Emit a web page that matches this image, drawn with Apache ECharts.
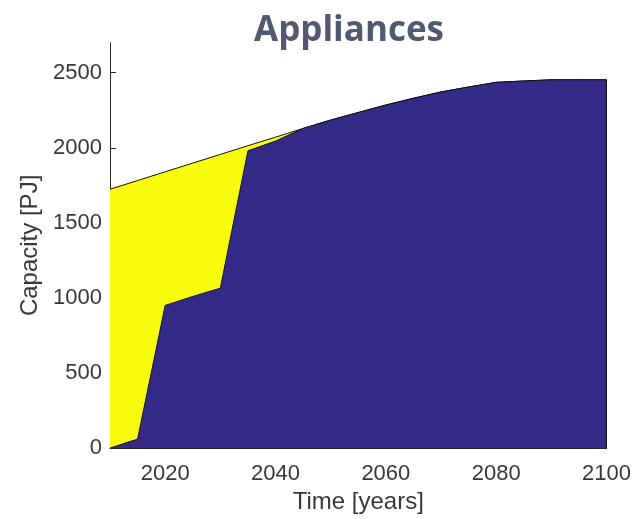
<!DOCTYPE html>
<html>
<head>
<meta charset="utf-8">
<script src="https://cdn.jsdelivr.net/npm/echarts@6/dist/echarts.min.js"></script>
<style>html,body{margin:0;padding:0;background:#fff}#chart{width:634px;height:519px}</style>
</head>
<body>
<div id="chart"></div>
<script>
// Installed capacity for appliances, PJ
const years = [2010, 2015, 2020, 2025, 2030, 2035, 2040, 2045, 2050, 2055, 2060, 2065, 2070, 2075, 2080, 2085, 2090, 2095, 2100];
// new technology (dark band, bottom)
const newTech = [0, 60, 950, 1010, 1065, 1980, 2045, 2129, 2185, 2235, 2285, 2330, 2372, 2405, 2436, 2445, 2453, 2453, 2453];
// existing stock (yellow band, on top of the dark band)
const existing = [1724, 1722, 890, 888, 891, 34, 26, 0, 0, 0, 0, 0, 0, 0, 0, 0, 0, 0, 0];
const xTicks = [2020, 2040, 2060, 2080, 2100];
const yTicks = [0, 500, 1000, 1500, 2000, 2500];

const total = newTech.map((v, i) => v + existing[i]);
const pair = arr => years.map((y, i) => [y, arr[i]]);
const lastYear = years[years.length - 1];
const lastTotal = total[total.length - 1];

const chart = echarts.init(document.getElementById('chart'));
const ink = '#383838';
const tickText = { color: ink, fontFamily: 'Liberation Sans', fontSize: 22 };
const nameText = { color: ink, fontFamily: 'Liberation Sans', fontSize: 24 };
chart.setOption({
  animation: false,
  title: {
    text: 'Appliances', left: 344, top: 9, textAlign: 'center',
    textStyle: { fontFamily: 'Open Sans', fontWeight: 'bold', fontSize: 35, color: '#545672' }
  },
  grid: { left: 110, right: 26, top: 42.7, bottom: 70 },
  xAxis: {
    type: 'value', min: 2010, max: 2100,
    name: 'Time [years]', nameLocation: 'middle', nameGap: 40,
    nameTextStyle: nameText,
    axisLine: { lineStyle: { color: '#262626', width: 1 } },
    axisTick: { inside: true, length: 5, customValues: xTicks, lineStyle: { color: '#262626' } },
    axisLabel: Object.assign({ customValues: xTicks, margin: 15, formatter: v => String(v) }, tickText),
    splitLine: { show: false }
  },
  yAxis: {
    type: 'value', min: 0, max: 2700,
    name: 'Capacity [PJ]', nameLocation: 'middle', nameGap: 68,
    nameTextStyle: nameText,
    axisLine: { show: true, lineStyle: { color: '#262626', width: 1 } },
    axisTick: { inside: true, length: 6, customValues: yTicks, lineStyle: { color: '#262626' } },
    axisLabel: Object.assign({ customValues: yTicks, margin: 8, formatter: v => String(v) }, tickText),
    splitLine: { show: false }
  },
  series: [
    {
      // upper band: filled up to the total
      type: 'line', data: pair(total), symbol: 'none',
      lineStyle: { color: '#111', width: 1 },
      areaStyle: { color: '#f9fb0e', opacity: 1 }, z: 1
    },
    {
      type: 'line', data: pair(newTech), symbol: 'none',
      lineStyle: { color: '#111', width: 1 },
      areaStyle: { color: '#352a87', opacity: 1 }, z: 2
    },
    {
      // closing edge on the right side of the filled region
      type: 'line', data: [[lastYear, 0], [lastYear, lastTotal]], symbol: 'none',
      lineStyle: { color: '#111', width: 1 }, z: 3
    }
  ]
});
</script>
</body>
</html>
